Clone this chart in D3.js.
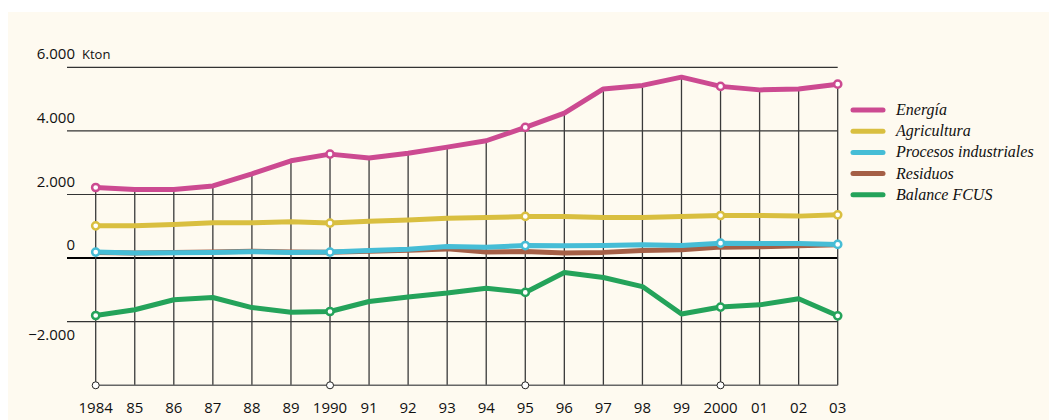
<!DOCTYPE html>
<html>
<head>
    <meta charset="utf-8">
    <style>
        body { margin: 0; background: #fff; }
        svg { display: block; }
        .tick-label { font-family: "Open Sans", "Noto Sans", sans-serif; font-size: 15px; fill: #111; }
        .legends { font-family: "Liberation Serif", serif; font-style: italic; font-size: 16px; fill: #111; }
    </style>
</head>
<body>
<svg width="1049" height="420"></svg>
<script src="https://cdnjs.cloudflare.com/ajax/libs/d3/7.8.5/d3.min.js"></script>
<script>
    let years = [1984, 1985, 1986, 1987, 1988, 1989, 1990, 1991, 1992, 1993,
                 1994, 1995, 1996, 1997, 1998, 1999, 2000, 2001, 2002, 2003]
    let yearLabels = ["1984", "85", "86", "87", "88", "89", "1990", "91", "92", "93",
                      "94", "95", "96", "97", "98", "99", "2000", "01", "02", "03"]
    let markedYears = [1984, 1990, 1995, 2000, 2003]
    let baseMarks = [1984, 1990, 1995, 2000]

    let energia = [2220, 2160, 2160, 2270, 2650, 3060, 3270, 3145, 3300, 3490,
                   3690, 4110, 4560, 5320, 5430, 5690, 5400, 5290, 5320, 5470]
    let agricultura = [1015, 1015, 1055, 1110, 1110, 1140, 1100, 1157, 1200, 1250,
                       1275, 1310, 1310, 1275, 1275, 1310, 1340, 1340, 1320, 1360]
    let procesos = [190, 157, 165, 180, 200, 180, 190, 240, 277, 365,
                    345, 395, 385, 395, 420, 395, 470, 460, 460, 430]
    let residuos = [180, 160, 175, 195, 215, 195, 185, 215, 245, 290,
                    190, 210, 160, 180, 240, 260, 345, 355, 385, 420]
    let balance = [-1805, -1625, -1310, -1240, -1555, -1700, -1680, -1365, -1225, -1100,
                   -945, -1080, -450, -610, -895, -1760, -1540, -1470, -1280, -1815]

    let seriesNames = ["Energía", "Agricultura", "Procesos industriales", "Residuos", "Balance FCUS"]
    let seriesColors = ["#cc4a91", "#d9bf40", "#46bdd6", "#a55f46", "#24a35a"]
    let yTicks = [6000, 4000, 2000, 0, -2000]

    let svg = d3.select("svg")

    svg.append("rect")
        .attr("x", 8).attr("y", 12)
        .attr("width", 1041).attr("height", 408)
        .attr("fill", "#fefaf0")

    let x = d3.scaleLinear()
        .domain([1984, 2003])
        .range([95.7, 837.7])

    let y = d3.scaleLinear()
        .domain([-4000, 6000])
        .range([385.3, 67.3])

    let fmt = v => v === 0 ? "0" : d3.format(",")(v).replace(",", ".")

    // horizontal grid
    svg.append("g")
        .selectAll("line")
        .data(yTicks)
        .join("line")
        .attr("x1", 67)
        .attr("x2", x(2003))
        .attr("y1", d => y(d))
        .attr("y2", d => y(d))
        .attr("stroke", d => d === 0 ? "#000" : "#333")
        .attr("stroke-width", d => d === 0 ? 2 : 1.2)

    // y labels (above the line, -2.000 below)
    svg.append("g")
        .selectAll("text")
        .data(yTicks)
        .join("text")
        .attr("class", "tick-label")
        .attr("x", 75)
        .attr("y", d => d < 0 ? y(d) + 18 : y(d) - 8)
        .attr("text-anchor", "end")
        .text(fmt)

    svg.append("text")
        .attr("class", "tick-label")
        .style("font-size", "13px")
        .attr("x", 82)
        .attr("y", y(6000) - 8)
        .text("Kton")

    // vertical grid: from bottom up to Energía line
    svg.append("g")
        .selectAll("line")
        .data(years)
        .join("line")
        .attr("x1", d => x(d))
        .attr("x2", d => x(d))
        .attr("y1", y(-4000))
        .attr("y2", (d, i) => y(energia[i]))
        .attr("stroke", "#3a3a3a")
        .attr("stroke-width", 1.3)

    svg.append("line")
        .attr("x1", x(1984)).attr("x2", x(2003))
        .attr("y1", y(-4000)).attr("y2", y(-4000))
        .attr("stroke", "#666")
        .attr("stroke-width", 1.5)

    svg.append("g")
        .selectAll("circle")
        .data(baseMarks)
        .join("circle")
        .attr("cx", d => x(d))
        .attr("cy", y(-4000))
        .attr("r", 3.5)
        .attr("fill", "#fff")
        .attr("stroke", "#222")
        .attr("stroke-width", 1)

    svg.append("g")
        .selectAll("text")
        .data(years)
        .join("text")
        .attr("class", "tick-label")
        .attr("x", d => x(d))
        .attr("y", 413)
        .attr("text-anchor", "middle")
        .text((d, i) => yearLabels[i])

    let seriesData = [energia, agricultura, procesos, residuos, balance]
    // draw order: residuos under procesos
    let drawOrder = [3, 2, 1, 0, 4]

    let line = d3.line()
        .x((d, i) => x(years[i]))
        .y(d => y(d))

    drawOrder.forEach(k => {
        let g = svg.append("g")
        g.append("path")
            .datum(seriesData[k])
            .attr("d", line)
            .attr("fill", "none")
            .attr("stroke", seriesColors[k])
            .attr("stroke-width", 5)
            .attr("stroke-linejoin", "round")
        if (k !== 3) {
            g.selectAll("circle")
                .data(markedYears)
                .join("circle")
                .attr("cx", d => x(d))
                .attr("cy", d => y(seriesData[k][years.indexOf(d)]))
                .attr("r", 3.6)
                .attr("fill", "#fff")
                .attr("stroke", seriesColors[k])
                .attr("stroke-width", 2.5)
        }
    })

    // legend
    let legend = svg.append("g")
        .selectAll("g")
        .data(seriesNames)
        .join("g")
        .attr("transform", (d, i) => `translate(851,${110 + i * 21.2})`)

    legend.append("line")
        .attr("x1", 2).attr("x2", 32)
        .attr("stroke", (d, i) => seriesColors[i])
        .attr("stroke-width", 5)
        .attr("stroke-linecap", "round")

    legend.append("text")
        .attr("class", "legends")
        .attr("x", 45)
        .attr("y", 5)
        .text(d => d)
</script>
</body>
</html>
